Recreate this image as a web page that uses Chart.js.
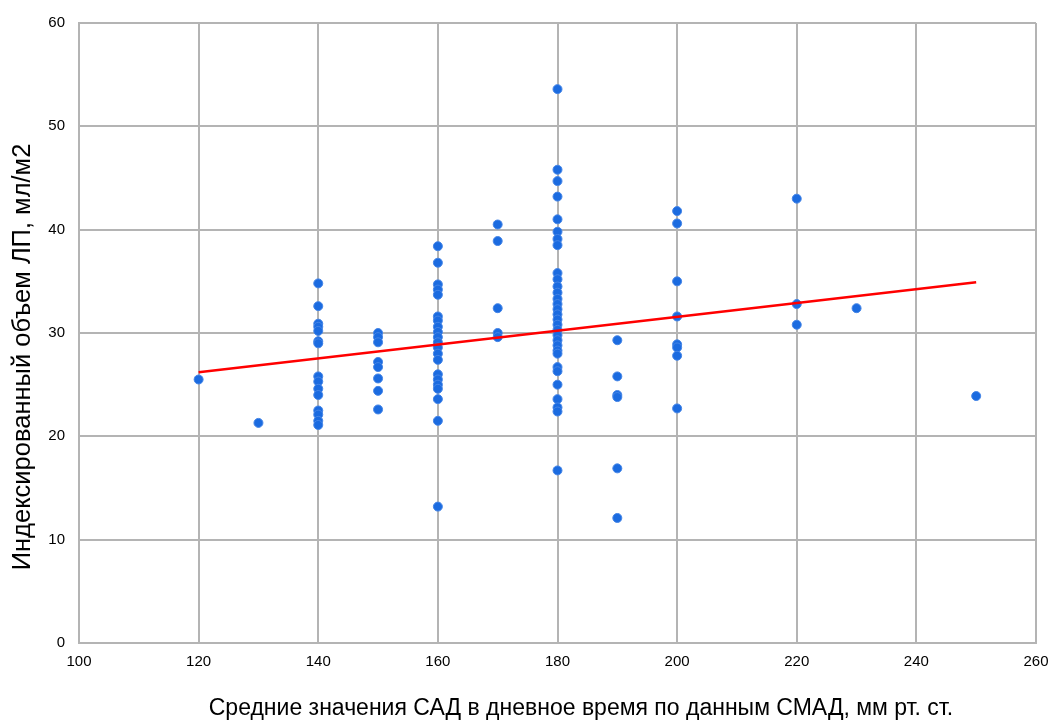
<!DOCTYPE html>
<html>
<head>
<meta charset="utf-8">
<script src="https://cdn.jsdelivr.net/npm/chart.js@4"></script>
<style>
    html, body { margin: 0; padding: 0; background: #fff; }
    #wrap { width: 1052px; height: 720px; }
</style>
</head>
<body>
<div id="wrap"><canvas id="scatterChart" width="1052" height="720"></canvas></div>
<script>
// Data: x = average daytime SBP (ABPM), y = indexed LA volume
const sadLevels = [120, 130, 140, 150, 160, 170, 180, 190, 200, 220, 230, 250];
const lvi120 = [25.5];
const lvi130 = [21.3];
const lvi140 = [34.8, 32.6, 30.9, 30.6, 30.2, 29.2, 29.0, 25.8, 25.3, 24.6, 24.0, 22.5, 22.1, 21.5, 21.1];
const lvi150 = [30.0, 29.6, 29.1, 27.2, 26.7, 25.6, 24.4, 22.6];
const lvi160 = [38.4, 36.8, 34.7, 34.2, 33.7, 31.6, 31.2, 30.6, 30.1, 29.6, 29.1, 28.6, 28.0, 27.4, 26.0, 25.5, 25.0, 24.6, 23.6, 21.5, 13.2];
const lvi170 = [40.5, 38.9, 32.4, 30.0, 29.6];
const lvi180 = [53.6, 45.8, 44.7, 43.2, 41.0, 39.8, 39.1, 38.5, 35.8, 35.2, 34.5, 33.9, 33.3, 32.8, 32.3, 31.8, 31.3, 30.8, 30.3, 29.8, 29.3, 28.8, 28.3, 28.0, 26.7, 26.3, 25.0, 23.6, 22.8, 22.4, 16.7];
const lvi190 = [29.3, 25.8, 24.0, 23.8, 16.9, 12.1];
const lvi200 = [41.8, 40.6, 35.0, 31.6, 28.9, 28.6, 27.8, 22.7];
const lvi220 = [43.0, 32.8, 30.8];
const lvi230 = [32.4];
const lvi250 = [23.9];
const lviByLevel = [lvi120, lvi130, lvi140, lvi150, lvi160, lvi170, lvi180, lvi190, lvi200, lvi220, lvi230, lvi250];

// Linear trend line endpoints
const trendX = [120, 250];
const trendY = [26.2, 34.9];

const xTitle = 'Средние значения САД в дневное время по данным СМАД, мм рт. ст.';
const yTitle = 'Индексированный объем ЛП, мл/м2';

const FONT = '"Liberation Sans", Arial, Helvetica, sans-serif';
const GRID = '#b4b4b4';

const scatterPoints = [];
sadLevels.forEach((sad, i) => {
    lviByLevel[i].forEach(v => scatterPoints.push({ x: sad, y: v }));
});
const trendPoints = trendX.map((x, i) => ({ x, y: trendY[i] }));

// Draw axis titles where the reference puts them
const axisTitlesPlugin = {
    id: 'axisTitles',
    afterDraw(chart) {
        const ctx = chart.ctx;
        ctx.save();
        ctx.fillStyle = '#000';
        ctx.textAlign = 'center';
        ctx.textBaseline = 'middle';
        ctx.font = `23px ${FONT}`;
        ctx.fillText(xTitle, 581, 709);
        ctx.translate(23, 357);
        ctx.rotate(-Math.PI / 2);
        ctx.font = `25.5px ${FONT}`;
        ctx.fillText(yTitle, 0, 0);
        ctx.restore();
    }
};

const ctx = document.getElementById('scatterChart').getContext('2d');
new Chart(ctx, {
    type: 'scatter',
    data: {
        datasets: [
            {
                type: 'line',
                label: 'Тренд',
                data: trendPoints,
                borderColor: '#ff0000',
                borderWidth: 2.5,
                pointRadius: 0,
                fill: false,
                order: 0
            },
            {
                label: 'ЛП',
                data: scatterPoints,
                backgroundColor: '#1b6be0',
                borderColor: '#4585e6',
                borderWidth: 1,
                pointRadius: 4.5,
                order: 1
            }
        ]
    },
    options: {
        responsive: false,
        animation: false,
        layout: { padding: { top: 22, right: 16, left: 0, bottom: 0 } },
        plugins: {
            legend: { display: false },
            tooltip: { enabled: false }
        },
        scales: {
            x: {
                type: 'linear',
                min: 100,
                max: 260,
                ticks: { stepSize: 20, color: '#000', padding: 10, font: { family: FONT, size: 15 } },
                grid: { color: GRID, lineWidth: 2, drawTicks: false },
                border: { color: GRID, width: 2 },
                afterFit: (scale) => {
                    scale.height = 77;
                    scale.paddingLeft = 0;
                    scale.paddingRight = 0;
                }
            },
            y: {
                min: 0,
                max: 60,
                ticks: { stepSize: 10, color: '#000', padding: 14, font: { family: FONT, size: 15 } },
                grid: { color: GRID, lineWidth: 2, drawTicks: false },
                border: { color: GRID, width: 2 },
                afterFit: (scale) => { scale.width = 79; }
            }
        }
    },
    plugins: [axisTitlesPlugin]
});
</script>
</body>
</html>
